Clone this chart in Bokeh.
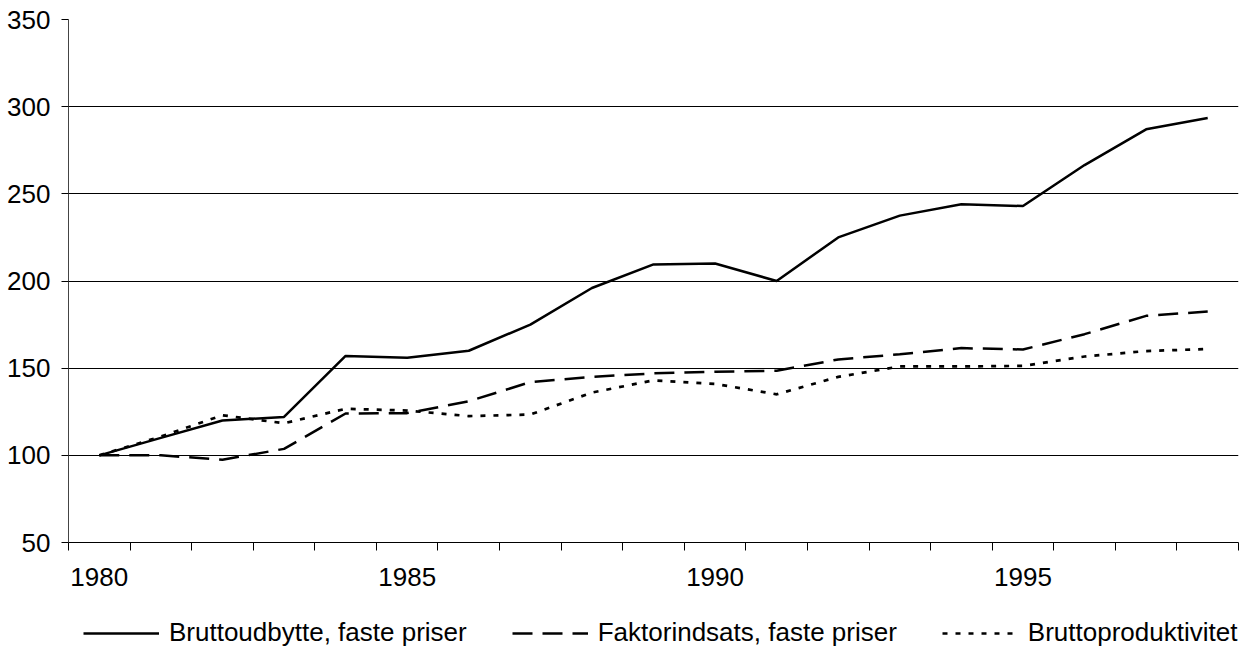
from bokeh.plotting import figure
from bokeh.layouts import column
from bokeh.models import Range1d, FixedTicker, Legend, LegendItem, ColumnDataSource
from bokeh.embed import file_html
from bokeh.resources import INLINE

years = list(range(1980, 1999))
bruttoudbytte = [100, 110, 120, 122, 157, 156, 160, 175, 196, 209.5, 210, 200, 225,
                 237.5, 244, 243, 266.5, 287, 293.5]
faktorindsats = [100, 100, 97.5, 103.7, 124, 124.2, 131, 142, 145, 147, 148, 148.5, 155,
                 158, 161.5, 160.7, 169.5, 180, 182.5]
bruttoproduktivitet = [100, 110.8, 123, 118.4, 126.7, 125.7, 122.5, 123.4, 136, 143, 141,
                       135, 145, 151, 151, 151.3, 156.7, 159.8, 161]
y_ticks = [50, 100, 150, 200, 250, 300, 350]
x_label_years = [1980, 1985, 1990, 1995]
labels = ["Bruttoudbytte, faste priser", "Faktorindsats, faste priser", "Bruttoproduktivitet"]

FONT = "Liberation Sans"
DASH = "20 10"
DOT = "5 8"
xpos = [i + 0.5 for i in range(len(years))]
src = ColumnDataSource(dict(x=xpos, a=bruttoudbytte, b=faktorindsats, c=bruttoproduktivitet))

p = figure(width=1250, height=602, output_backend="svg", toolbar_location=None,
           x_range=Range1d(0, len(years)), y_range=Range1d(50, 350),
           min_border_left=68, min_border_right=12, min_border_top=19, min_border_bottom=60)
p.outline_line_color = None
p.background_fill_color = "white"

r1 = p.line("x", "a", source=src, line_color="black", line_width=2.5)
r2 = p.line("x", "b", source=src, line_color="black", line_width=2.5, line_dash=DASH)
r3 = p.line("x", "c", source=src, line_color="black", line_width=2.7, line_dash=DOT)

# x axis: category-style, ticks between years, labels every 5 years
xa = p.xaxis[0]
label_pos = [years.index(y) + 0.5 for y in x_label_years]
xa.ticker = FixedTicker(ticks=label_pos, minor_ticks=list(range(len(years) + 1)))
xa.major_label_overrides = {pos: str(y) for pos, y in zip(label_pos, x_label_years)}
xa.major_tick_out = 0
xa.major_tick_in = 0
xa.minor_tick_out = 8
xa.minor_tick_in = 0
xa.minor_tick_line_color = "black"
xa.axis_line_color = "black"
xa.major_label_standoff = 17
xa.major_label_text_font = FONT
xa.major_label_text_font_size = "26px"
xa.major_label_text_color = "black"

ya = p.yaxis[0]
ya.ticker = FixedTicker(ticks=y_ticks, minor_ticks=[])
ya.major_tick_out = 7
ya.major_tick_in = 0
ya.major_tick_line_color = "black"
ya.axis_line_color = "#444444"
ya.major_label_standoff = 11
ya.major_label_text_font = FONT
ya.major_label_text_font_size = "26px"
ya.major_label_text_color = "black"

p.xgrid.visible = False
p.ygrid.ticker = FixedTicker(ticks=[t for t in y_ticks if 50 < t < 350])
p.ygrid.grid_line_color = "black"
p.ygrid.grid_line_width = 1

# legend in its own strip below the chart (dummy lines lie outside the strip's ranges)
lf = figure(width=1250, height=46, output_backend="svg", toolbar_location=None,
            x_range=Range1d(0, 1), y_range=Range1d(0, 1),
            min_border_left=0, min_border_right=0, min_border_top=0, min_border_bottom=0)
lf.axis.visible = False
lf.grid.visible = False
lf.outline_line_color = None
dummy = ColumnDataSource(dict(x=[-10, -9], y=[-10, -9]))
l1 = lf.line("x", "y", source=dummy, line_color="black", line_width=2.5)
l2 = lf.line("x", "y", source=dummy, line_color="black", line_width=2.5, line_dash=DASH)
l3 = lf.line("x", "y", source=dummy, line_color="black", line_width=2.7, line_dash=DOT)

legend = Legend(items=[LegendItem(label=labels[0], renderers=[l1]),
                       LegendItem(label=labels[1], renderers=[l2]),
                       LegendItem(label=labels[2], renderers=[l3])],
                orientation="horizontal", location=(15, 0),
                glyph_width=76, glyph_height=24, label_standoff=10, spacing=45,
                padding=0, margin=0, border_line_color=None, background_fill_alpha=0,
                label_text_font=FONT, label_text_font_size="26px", label_text_color="black")
lf.add_layout(legend, "center")

layout = column(p, lf, spacing=0)
open("out.html", "w").write(file_html(layout, INLINE))
